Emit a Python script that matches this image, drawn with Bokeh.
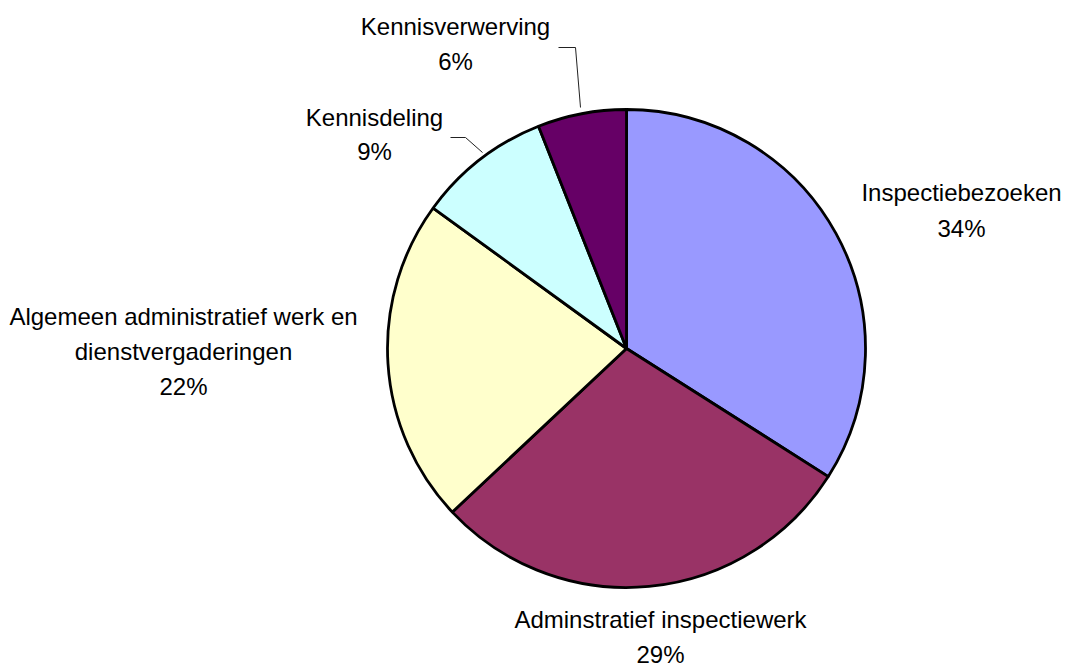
import math
from bokeh.plotting import figure
from bokeh.models import Range1d
from bokeh.embed import file_html
from bokeh.resources import INLINE
from bokeh.core.properties import value

categories = ["Inspectiebezoeken", "Adminstratief inspectiewerk",
              "Algemeen administratief werk en dienstvergaderingen",
              "Kennisdeling", "Kennisverwerving"]
percentages = [34, 29, 22, 9, 6]
colors = ["#9999FF", "#993366", "#FFFFCC", "#CCFFFF", "#660066"]
label_lines = [["Inspectiebezoeken"], ["Adminstratief inspectiewerk"],
               ["Algemeen administratief werk en", "dienstvergaderingen"],
               ["Kennisdeling"], ["Kennisverwerving"]]

W, H = 1069, 667
def sx(x):  # picture px -> data
    return x
def sy(y):
    return H - y

p = figure(width=W, height=H, output_backend="svg", toolbar_location=None,
           x_range=Range1d(0, W), y_range=Range1d(0, H), min_border=0)
p.axis.visible = False
p.grid.visible = False
p.outline_line_color = None

cx, cy, r = sx(626), sy(348), 239
total = sum(percentages)
cum = 0.0
starts, ends = [], []
for v in percentages:
    starts.append(math.pi / 2 - 2 * math.pi * cum / total)
    cum += v
    ends.append(math.pi / 2 - 2 * math.pi * cum / total)

p.wedge(x=[cx] * 5, y=[cy] * 5, radius=r, start_angle=starts, end_angle=ends,
        direction="clock", fill_color=colors, line_color="black", line_width=2.8)

# label layout (picture px): centre x, first baseline, line step
label_pos = [(961, 201, 36), (660, 628, 35), (183, 325, 35), (374, 126, 34), (455, 35, 35)]
shift = 9
font = value("Liberation Sans")
for lines, pct, (lx, ly, step) in zip(label_lines, percentages, label_pos):
    all_lines = lines + [f"{pct}%"]
    for i, t in enumerate(all_lines):
        p.text(x=[sx(lx)], y=[sy(ly + i * step - shift)], text=[t], text_font=font,
               text_font_size="24px", text_align="center",
               text_baseline="alphabetic", text_color="black")

# leader lines
p.line([sx(450), sx(465), sx(482)], [sy(137), sy(137), sy(152)],
       line_color="#222222", line_width=1)
p.line([sx(558), sx(575), sx(580)], [sy(47), sy(47), sy(107)],
       line_color="#222222", line_width=1)

open("out.html", "w").write(file_html(p, INLINE))
